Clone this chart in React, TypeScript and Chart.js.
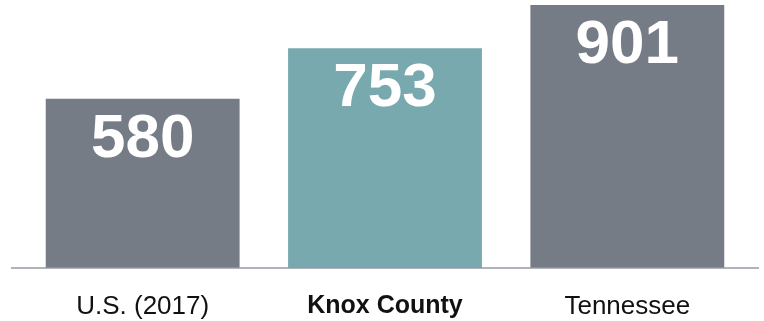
import React, { useEffect, useRef } from "react";
import { Chart, registerables } from "chart.js";

Chart.register(...registerables);

const categories = ["U.S. (2017)", "Knox County", "Tennessee"];
const values = [580, 753, 901];
const barColors = ["#757c86", "#78a9ae", "#757c86"];
const boldIndex = 1;

const valueLabelPlugin = {
  id: "valueLabels",
  afterDatasetsDraw(chart: any) {
    const ctx = chart.ctx;
    const meta = chart.getDatasetMeta(0);
    ctx.save();
    ctx.fillStyle = "#ffffff";
    ctx.font = "bold 62px 'Liberation Sans', Arial, sans-serif";
    ctx.textAlign = "center";
    ctx.textBaseline = "alphabetic";
    meta.data.forEach((bar: any, i: number) => {
      ctx.fillText(String(values[i]), bar.x, bar.y + 58);
    });
    ctx.restore();
  },
};

const baselinePlugin = {
  id: "baseline",
  afterDatasetsDraw(chart: any) {
    const ctx = chart.ctx;
    const y = chart.scales.y.getPixelForValue(0);
    ctx.save();
    ctx.strokeStyle = "#959aa3";
    ctx.lineWidth = 1.5;
    ctx.beginPath();
    ctx.moveTo(11, y);
    ctx.lineTo(759, y);
    ctx.stroke();
    ctx.restore();
  },
};

export default function App() {
  const canvasRef = useRef<HTMLCanvasElement>(null);

  useEffect(() => {
    document.body.style.margin = "0";
    const chart = new Chart(canvasRef.current as HTMLCanvasElement, {
      type: "bar",
      data: {
        labels: categories,
        datasets: [
          {
            data: values,
            backgroundColor: barColors,
            borderWidth: 0,
            categoryPercentage: 1,
            barPercentage: 0.8,
          },
        ],
      },
      options: {
        animation: false,
        responsive: true,
        maintainAspectRatio: false,
        layout: { padding: { left: 21.5, right: 15.5, top: 0, bottom: 0 } },
        plugins: {
          legend: { display: false },
          tooltip: { enabled: false },
        },
        scales: {
          x: {
            grid: { display: false },
            border: { display: false },
            ticks: {
              color: "#111111",
              padding: 15,
              font: (c: any) => ({
                family: "'Liberation Sans', Arial, sans-serif",
                size: c.index === boldIndex ? 25 : 26,
                weight: c.index === boldIndex ? "bold" : "normal",
              }),
            },
            afterFit: (scale: any) => {
              scale.height = 53;
            },
          },
          y: {
            display: false,
            min: 0,
            max: 918.1,
          },
        },
      },
      plugins: [valueLabelPlugin, baselinePlugin],
    });
    return () => chart.destroy();
  }, []);

  return (
    <div style={{ width: 764, height: 321, position: "relative" }}>
      <canvas ref={canvasRef} />
    </div>
  );
}
